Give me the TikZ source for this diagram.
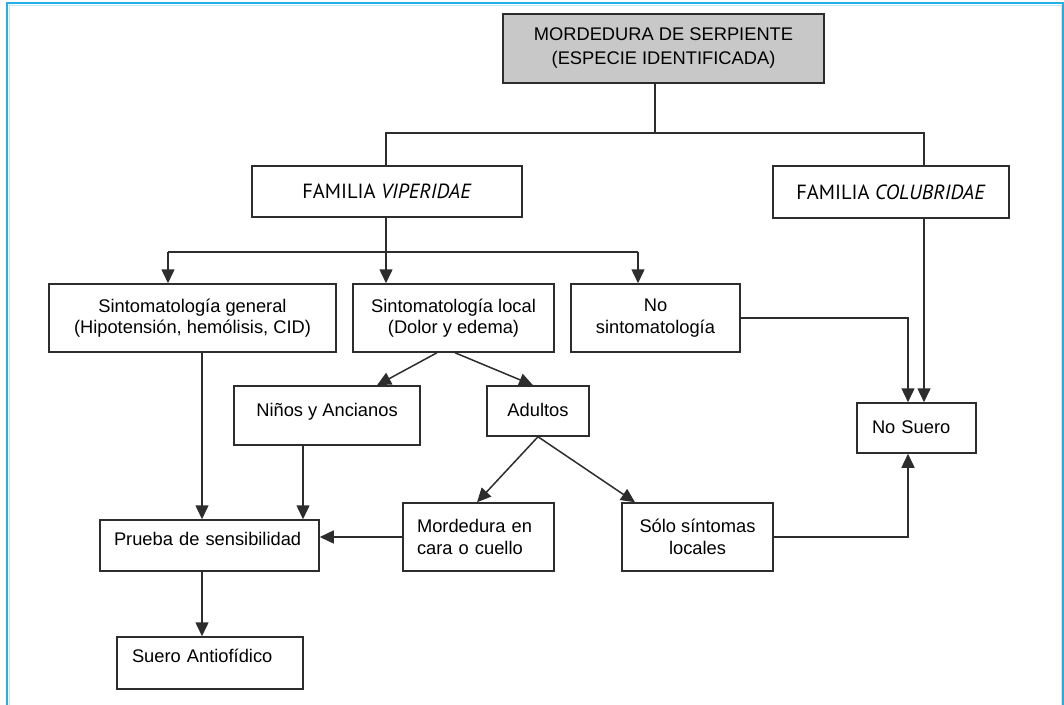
\documentclass[tikz,border=0pt]{standalone}
\usepackage{fontspec}
\setmainfont{Liberation Sans}
\newfontfamily\famfont{PT Sans}
\usetikzlibrary{arrows.meta}
\definecolor{framecyan}{RGB}{35,175,232}
\definecolor{framepale}{RGB}{190,232,248}
\definecolor{boxgray}{RGB}{200,200,200}
\definecolor{linegray}{RGB}{45,45,45}

\begin{document}
\begin{tikzpicture}[x=1pt,y=-1pt,
  box/.style={draw=linegray,line width=1.5pt,inner sep=0pt,font=\fontsize{18.3}{21.5}\selectfont},
  famtext/.style={font=\famfont\fontsize{20.5}{24}\selectfont},
  plain/.style={draw=linegray,line width=1.5pt},
  arr/.style={plain,-{Triangle[length=14pt,width=13pt]}}]
  \useasboundingbox (0,0) rectangle (1064,704);

  %frame
  \draw[framepale,line width=1pt] (9,710) -- (9,5) -- (1061,5) -- (1061,710);
  \draw[framecyan,line width=2pt] (7,710) -- (7,3) -- (1063,3) -- (1063,710);

  %top
  \node[box,fill=boxgray,minimum width=321pt,minimum height=69pt,align=center] (bite) at (663.5,48.5) {MORDEDURA DE SERPIENTE\\[2.5pt](ESPECIE IDENTIFICADA)};

  %families
  \node[box,famtext,minimum width=270pt,minimum height=51pt] (viper) at (387,191.5) {FAMILIA \textit{VIPERIDAE}};
  \node[box,famtext,minimum width=236pt,minimum height=52pt] (colub) at (891,192) {FAMILIA \textit{COLUBRIDAE}};

  %symptoms
  \node[box,minimum width=287pt,minimum height=68pt,align=center] (general) at (192.5,318) {Sintomatología general\\(Hipotensión, hemólisis, CID)};
  \node[box,minimum width=201pt,minimum height=68pt,align=center] (local) at (453.5,318) {Sintomatología local\\(Dolor y edema)};
  \node[box,minimum width=169pt,minimum height=68pt,align=center] (nosint) at (655.5,318) {No\\sintomatología};

  %age groups
  \node[box,minimum width=186pt,minimum height=59pt,text height=13pt,text depth=11pt] (kids) at (327,415.5) {Niños y Ancianos};
  \node[box,minimum width=102pt,minimum height=50pt,text height=13pt,text depth=2pt] (adults) at (538,411) {Adultos};
  \node[box,minimum width=119pt,minimum height=50pt,text width=89pt,inner xsep=15pt,text height=13pt,text depth=2pt,align=left] (noserum) at (916.5,428) {No Suero};

  %adult cases
  \node[box,minimum width=151pt,minimum height=68pt,text width=123pt,inner xsep=14pt,align=left] (face) at (478.5,537) {Mordedura en\\cara o cuello};
  \node[box,minimum width=151pt,minimum height=68pt,align=center] (onlylocal) at (697.5,537) {Sólo síntomas\\locales};

  %test and serum
  \node[box,minimum width=219pt,minimum height=51pt,text width=191pt,inner xsep=14pt,text height=13pt,text depth=13pt,align=left] (test) at (209.5,545.5) {Prueba de sensibilidad};
  \node[box,minimum width=186pt,minimum height=52pt,text width=156pt,inner xsep=15pt,text height=13pt,text depth=14pt,align=left] (serum) at (210,663) {Suero Antiofídico};

  %bite to families
  \coordinate (split1) at (655,133);
  \coordinate (colubtap) at (924,133);
  \coordinate (split2) at (386,252);
  \draw[plain] (bite.south -| split1) -- (split1);
  \draw[plain] (viper.north -| split2) |- (colubtap) -- (colub.north -| colubtap);

  %viperidae to symptoms
  \coordinate (gentap) at (168,252);
  \coordinate (notap) at (638,252);
  \draw[plain] (viper.south -| split2) -- (split2);
  \draw[plain] (gentap) -- (notap);
  \draw[arr] (gentap) -- (general.north -| gentap);
  \draw[arr] (split2) -- (local.north -| split2);
  \draw[arr] (notap) -- (nosint.north -| notap);

  %local symptoms
  \draw[arr] ([xshift=-16.5pt]local.south) -- ([xshift=50pt]kids.north);
  \draw[arr] ([xshift=1.5pt]local.south) -- ([xshift=-5pt]adults.north);
  \draw[arr] (adults.south) -- ([xshift=-1.5pt]face.north);
  \draw[arr] (adults.south) -- ([xshift=-62.5pt]onlylocal.north);

  %to the test
  \draw[arr] ([xshift=9.5pt]general.south) coordinate (g) -- (g |- test.north);
  \draw[arr] ([xshift=-24pt]kids.south) coordinate (k) -- (k |- test.north);
  \draw[arr] (face.west) -- (face.west -| test.east);
  \draw[arr] ([xshift=-7.5pt]test.south) coordinate (t) -- (t |- serum.north);

  %no serum
  \draw[arr] (nosint.east) -| ([xshift=-8.5pt]noserum.north);
  \draw[arr] (colub.south -| colubtap) -- (noserum.north -| colubtap);
  \draw[arr] (onlylocal.east) -| ([xshift=-8.5pt]noserum.south);
\end{tikzpicture}
\end{document}
